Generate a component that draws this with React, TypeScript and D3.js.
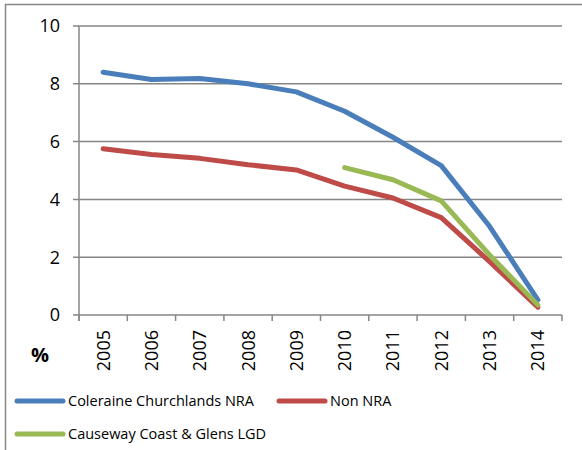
import * as d3 from "d3";
import { useEffect, useRef } from "react";

const years = ["2005", "2006", "2007", "2008", "2009", "2010", "2011", "2012", "2013", "2014"];
const coleraine = [8.4, 8.15, 8.18, 8.0, 7.72, 7.05, 6.15, 5.17, 3.07, 0.52];
const nonNra = [5.75, 5.55, 5.42, 5.2, 5.02, 4.46, 4.05, 3.37, 1.85, 0.27];
const causeway: (number | null)[] = [null, null, null, null, null, 5.1, 4.68, 3.95, 2.08, 0.35];
const yTicks = [0, 2, 4, 6, 8, 10];

const series = [
  { name: "Coleraine Churchlands NRA", values: coleraine as (number | null)[], color: "#4a7ebb" },
  { name: "Non NRA", values: nonNra as (number | null)[], color: "#be4b48" },
  { name: "Causeway Coast & Glens LGD", values: causeway, color: "#98b954" },
];

const App = () => {
  const ref = useRef<SVGSVGElement | null>(null);

  useEffect(() => {
    const svg = d3.select(ref.current);
    svg.selectAll("*").remove();

    const width = 582;
    const height = 450;
    const grid = "#868686";
    const font = "'Open Sans', sans-serif";

    // outer chart border
    svg
      .append("rect")
      .attr("x", 5.5)
      .attr("y", 4.5)
      .attr("width", width)
      .attr("height", height)
      .attr("fill", "none")
      .attr("stroke", grid)
      .attr("stroke-width", 1.5);

    const x = d3.scaleBand().domain(years).range([79, 562]);
    const y = d3.scaleLinear().domain([0, 10]).range([315, 26]);

    // gridlines + y ticks
    svg
      .append("g")
      .selectAll("line")
      .data(yTicks)
      .enter()
      .append("line")
      .attr("x1", 73)
      .attr("x2", 562)
      .attr("y1", (d) => y(d))
      .attr("y2", (d) => y(d))
      .attr("stroke", grid)
      .attr("stroke-width", 1.5);

    svg
      .append("g")
      .selectAll("text")
      .data(yTicks)
      .enter()
      .append("text")
      .attr("x", 60)
      .attr("y", (d) => y(d))
      .attr("dy", "0.36em")
      .attr("text-anchor", "end")
      .style("font-family", font)
      .style("font-size", "18px")
      .style("fill", "#000")
      .text((d) => d);

    // y axis line
    svg
      .append("line")
      .attr("x1", 79)
      .attr("x2", 79)
      .attr("y1", y(10))
      .attr("y2", y(0) + 6)
      .attr("stroke", grid)
      .attr("stroke-width", 1.5);

    // x ticks
    const tickPos = years.map((d) => x(d) ?? 0).concat([562]);
    svg
      .append("g")
      .selectAll("line")
      .data(tickPos)
      .enter()
      .append("line")
      .attr("x1", (d) => d)
      .attr("x2", (d) => d)
      .attr("y1", y(0))
      .attr("y2", y(0) + 6)
      .attr("stroke", grid)
      .attr("stroke-width", 1.5);

    svg
      .append("g")
      .selectAll("text")
      .data(years)
      .enter()
      .append("text")
      .attr("transform", (d) => `translate(${(x(d) ?? 0) + x.bandwidth() / 2}, 330) rotate(-90)`)
      .attr("dy", "0.36em")
      .attr("text-anchor", "end")
      .style("font-family", font)
      .style("font-size", "18px")
      .style("fill", "#000")
      .text((d) => d);

    // % label
    svg
      .append("text")
      .attr("x", 40)
      .attr("y", 355)
      .attr("dy", "0.36em")
      .attr("text-anchor", "middle")
      .style("font-family", font)
      .style("font-size", "20px")
      .style("font-weight", "bold")
      .text("%");

    const line = d3
      .line<number | null>()
      .defined((d) => d !== null)
      .x((_, i) => (x(years[i]) ?? 0) + x.bandwidth() / 2)
      .y((d) => y(d as number));

    series.forEach((s) => {
      svg
        .append("path")
        .datum(s.values)
        .attr("d", line)
        .attr("fill", "none")
        .attr("stroke", s.color)
        .attr("stroke-width", 5)
        .attr("stroke-linejoin", "round")
        .attr("stroke-linecap", "round");
    });

    // legend
    const legendPos = [
      { lx: 15, ly: 401 },
      { lx: 277, ly: 401 },
      { lx: 15, ly: 434 },
    ];
    series.forEach((s, i) => {
      const p = legendPos[i];
      const g = svg.append("g");
      g.append("line")
        .attr("x1", p.lx + 2)
        .attr("x2", p.lx + 48)
        .attr("y1", p.ly)
        .attr("y2", p.ly)
        .attr("stroke", s.color)
        .attr("stroke-width", 5)
        .attr("stroke-linecap", "round");
      g.append("text")
        .attr("x", p.lx + 53)
        .attr("y", p.ly)
        .attr("dy", "0.36em")
        .style("font-family", font)
        .style("font-size", "14.5px")
        .style("fill", "#000")
        .text(s.name);
    });
  }, []);

  return (
    <svg
      ref={ref}
      width={582}
      height={450}
      style={{ position: "absolute", left: 0, top: 0, background: "#fff" }}
    ></svg>
  );
};

export default App;
